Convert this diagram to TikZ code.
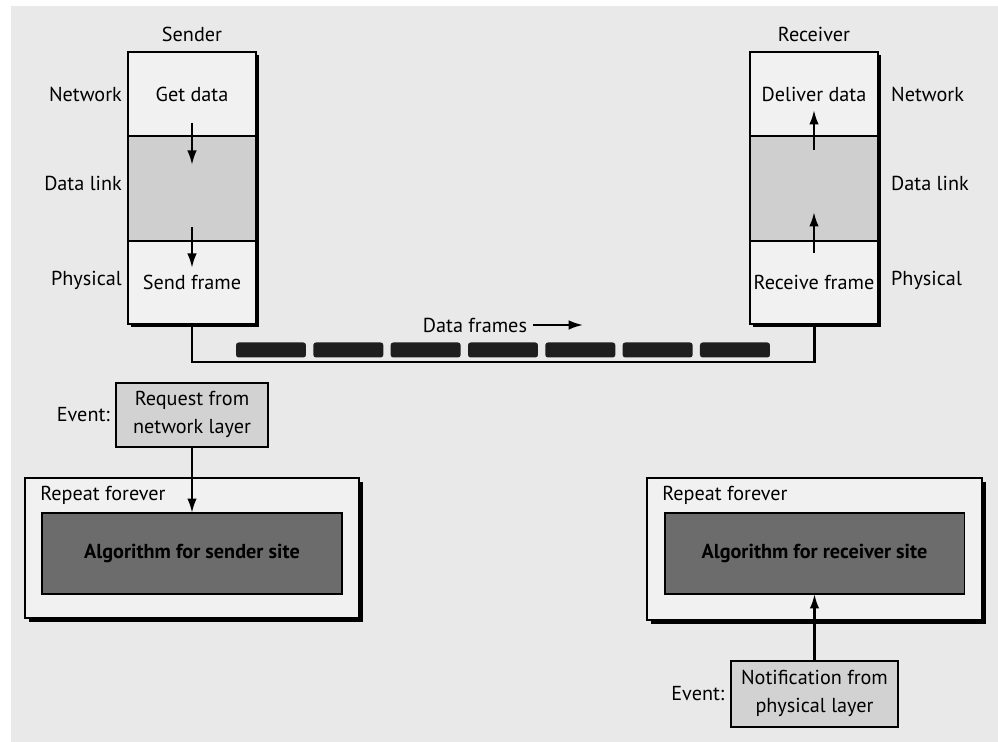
\documentclass[tikz,border=0pt]{standalone}
\usepackage{fontspec}
\setmainfont{PT Sans}
\usepackage{tikz}
\usetikzlibrary{arrows.meta,positioning,shadows,calc}
\definecolor{paper}{HTML}{E9E9E9}
\definecolor{boxwhite}{HTML}{F1F1F1}
\definecolor{linkgray}{HTML}{CFCFCF}
\definecolor{eventgray}{HTML}{D2D2D2}
\definecolor{alggray}{HTML}{6C6C6C}
\definecolor{framegray}{HTML}{1E1E1E}
\tikzstyle{layer}=[draw,line width=1.1pt,fill=boxwhite,minimum width=2.56cm,inner sep=0pt,outer sep=0pt,drop shadow={shadow xshift=.06cm,shadow yshift=-.06cm,fill=black,opacity=1}]
\tikzstyle{loopbox}=[draw,line width=1.1pt,fill=boxwhite,inner sep=0pt,outer sep=0pt,drop shadow={shadow xshift=.08cm,shadow yshift=-.08cm,fill=black,opacity=1}]
\tikzstyle{alg}=[draw,line width=1.1pt,fill=alggray,minimum width=6cm,minimum height=1.62cm,inner sep=0pt,outer sep=0pt,font=\fontsize{11.5}{14}\selectfont\bfseries]
\tikzstyle{event}=[draw,line width=1.1pt,fill=eventgray,inner sep=0pt,outer sep=0pt]
\tikzstyle{frame}=[fill=framegray,minimum width=1.4cm,minimum height=.3cm,rounded corners=1.5pt,inner sep=0pt]
\tikzset{>={Latex[length=2.9mm,width=1.9mm]}}
\tikzstyle{arrow}=[->,line width=1.3pt]
\tikzstyle{wire}=[line width=1.7pt]

\begin{document}
\begin{tikzpicture}[x=0.02cm,y=-0.02cm,font=\fontsize{11.5}{14}\selectfont]
    \useasboundingbox (0,0) rectangle (998,742);
    \fill[paper] (11,6) rectangle (998,742);

    % sender stack
    \node[layer,minimum height=1.68cm] (snet) at (192,94) {Get data};
    \node[layer,fill=linkgray,minimum height=2.1cm,below=0pt of snet] (slink) {};
    \node[layer,minimum height=1.66cm,below=0pt of slink] (sphy) {Send frame};
    \node[above=.08cm of snet] (sender) {Sender};
    \node[left=0pt of snet] (snetlbl) {Network};
    \node[left=0pt of slink,yshift=.1cm] (slinklbl) {Data link};
    \node[left=0pt of sphy,yshift=.04cm] (sphylbl) {Physical};

    % receiver stack
    \node[layer,minimum height=1.68cm] (rnet) at (814,94) {Deliver data};
    \node[layer,fill=linkgray,minimum height=2.1cm,below=0pt of rnet] (rlink) {};
    \node[layer,minimum height=1.66cm,below=0pt of rlink] (rphy) {Receive frame};
    \node[above=.08cm of rnet] (receiver) {Receiver};
    \node[right=.14cm of rnet] (rnetlbl) {Network};
    \node[right=.14cm of rlink,yshift=.1cm] (rlinklbl) {Data link};
    \node[right=.14cm of rphy,yshift=.04cm] (rphylbl) {Physical};

    % passing data through the layers
    \draw[arrow] ($(snet.south)+(0,-13)$) -- ($(slink.north)+(0,29)$);
    \draw[arrow] ($(slink.south)+(0,-14)$) -- ($(sphy.north)+(0,27)$);
    \draw[arrow] ($(rlink.north)+(0,14)$) -- ($(rnet.south)+(0,-26)$);
    \draw[arrow] ($(rphy.north)+(0,12)$) -- ($(rlink.south)+(0,-29)$);

    % the link and the frames on it
    \coordinate (wirecorner) at (192,362);
    \draw[wire] (sphy.south) -- (wirecorner) -| (rphy.south);
    \foreach \i in {0,...,6}
        \node[frame] (f\i) at (271+77.33*\i,350) {};
    \node (dflabel) at (475,325) {Data frames};
    \draw[arrow] (dflabel.east) -- ++(50,0);

    % sender site
    \node[event,minimum width=3.04cm,minimum height=1.28cm] (sevent) at (192,415) {\begin{tabular}{c}Request from\\[2pt] network layer\end{tabular}};
    \node[left=0pt of sevent] (seventlbl) {Event:};
    \node[loopbox,minimum width=6.68cm,minimum height=2.8cm] (sloop) at (192,548) {};
    \node[anchor=west,inner sep=0pt] (slooplbl) at ($(sloop.north west)+(15,17)$) {Repeat forever};
    \node[alg] (salg) at (192,553.5) {Algorithm for sender site};
    \draw[arrow] (sevent.south) -- (salg.north);

    % receiver site
    \node[loopbox,minimum width=6.7cm,minimum height=2.84cm] (rloop) at (814.5,549) {};
    \node[anchor=west,inner sep=0pt] (rlooplbl) at ($(rloop.north west)+(15,17)$) {Repeat forever};
    \node[alg] (ralg) at (814.5,553.5) {Algorithm for receiver site};
    \node[event,minimum width=3.16cm,minimum height=1.32cm] (revent) at (814.5,694) {\begin{tabular}{c}Notification from\\[2pt] physical layer\end{tabular}};
    \node[left=0pt of revent] (reventlbl) {Event:};
    \draw[arrow] (revent.north) -- (ralg.south);
\end{tikzpicture}
\end{document}
